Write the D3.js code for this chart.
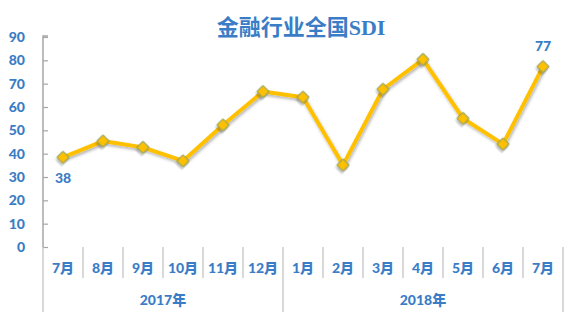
<!DOCTYPE html>
<html><head><meta charset="utf-8">
<script src="https://cdn.jsdelivr.net/npm/d3@7"></script>
<style>body{margin:0;background:#fff}svg{display:block}</style>
</head><body><svg id="c" width="569" height="329"></svg>
<script>
const months = ["7月","8月","9月","10月","11月","12月","1月","2月","3月","4月","5月","6月","7月"];
const years = ["2017年","2018年"];
const yearSpans = [6, 7];
const values = [38.4, 45.4, 42.7, 36.9, 52.3, 66.6, 64.2, 35.1, 67.6, 80.4, 55.1, 44.1, 77.3];
const labelled = [{i:0, text:"38", pos:"below"}, {i:12, text:"77", pos:"above"}];
const yTicks = [0,10,20,30,40,50,60,70,80,90];

const svg = d3.select("#c");
const blue = "#3A7DC6";
const L = 43, R = 563, T = 37, B = 247;
const x = d3.scaleBand().domain(d3.range(months.length)).range([L, R]).paddingInner(0).paddingOuter(0);
const y = d3.scaleLinear().domain([0, 90]).range([B, T]);
const labFont = "Lato, 'Noto Sans CJK SC', sans-serif";

const defs = svg.append("defs");
const f = defs.append("filter").attr("id","sh").attr("x","-20%").attr("y","-20%").attr("width","140%").attr("height","160%");
f.append("feDropShadow").attr("dx",1).attr("dy",2).attr("stdDeviation",1.5).attr("flood-color","#000").attr("flood-opacity",0.3);
const f2 = defs.append("filter").attr("id","sh2").attr("x","-5%").attr("y","-50%").attr("width","110%").attr("height","300%");
f2.append("feDropShadow").attr("dx",0).attr("dy",1.5).attr("stdDeviation",1).attr("flood-color","#000").attr("flood-opacity",0.3);

// title
svg.append("text").attr("x", 301).attr("y", 35).attr("text-anchor","middle")
  .attr("font-family","'Liberation Serif', 'Noto Sans CJK SC', serif").attr("font-weight","bold")
  .attr("font-size", 22).attr("fill", blue).text("金融行业全国SDI");

// y axis
const ya = svg.append("g").attr("transform", `translate(${L},0)`)
  .call(d3.axisRight(y).tickValues(yTicks).tickSize(5).tickFormat(""));
ya.select(".domain").attr("stroke","#a6a6a6").attr("stroke-width",1.5).attr("d", `M5,${T-1}H0V${B}`);
ya.selectAll(".tick line").attr("stroke","#a6a6a6").attr("stroke-width",1.2);
svg.append("g").selectAll("text").data(yTicks).join("text")
  .attr("x", 25).attr("y", d => y(d)).attr("dy","0.36em").attr("text-anchor","end")
  .attr("font-family", labFont).attr("font-weight","900").attr("font-size",14).attr("fill",blue)
  .text(d => d);

// x axis line
svg.append("line").attr("x1",L).attr("x2",R).attr("y1",B).attr("y2",B)
  .attr("stroke","#a6a6a6").attr("stroke-width",2).attr("filter","url(#sh2)");

// month separators
const seps = d3.range(months.length + 1);
let cum = [0]; yearSpans.forEach(s => cum.push(cum[cum.length-1] + s));
svg.append("g").selectAll("line").data(seps).join("line")
  .attr("x1", i => i < months.length ? x(i) : R).attr("x2", i => i < months.length ? x(i) : R)
  .attr("y1", B).attr("y2", i => cum.includes(i) ? 312 : 278)
  .attr("stroke","#bfbfbf").attr("stroke-width",1.2);

// month labels
svg.append("g").selectAll("text").data(months).join("text")
  .attr("x", (d,i) => x(i) + x.bandwidth()/2).attr("y", 268).attr("dy","0.36em")
  .attr("text-anchor","middle").attr("font-family",labFont).attr("font-weight","900")
  .attr("font-size",14).attr("fill",blue).text(d => d);

// year labels
svg.append("g").selectAll("text").data(years).join("text")
  .attr("x", (d,i) => (x(cum[i]) + (cum[i+1] < months.length ? x(cum[i+1]) : R)) / 2)
  .attr("y", 300).attr("dy","0.36em")
  .attr("text-anchor","middle").attr("font-family",labFont).attr("font-weight","900")
  .attr("font-size",14).attr("fill",blue).text(d => d);

// line
const line = d3.line().x((d,i) => x(i) + x.bandwidth()/2).y(d => y(d));
svg.append("path").datum(values).attr("d", line).attr("fill","none")
  .attr("stroke","#FFC000").attr("stroke-width",4).attr("stroke-linejoin","round")
  .attr("filter","url(#sh)");

// markers
svg.append("g").selectAll("path").data(values).join("path")
  .attr("d", d3.symbol(d3.symbolSquare, 72))
  .attr("transform", (d,i) => `translate(${x(i) + x.bandwidth()/2},${y(d)}) rotate(45)`)
  .attr("fill","#FFC000").attr("stroke","#8FA25A").attr("stroke-width",1)
  .attr("filter","url(#sh)");

// data labels
svg.append("g").selectAll("text").data(labelled).join("text")
  .attr("x", d => x(d.i) + x.bandwidth()/2)
  .attr("y", d => d.pos === "below" ? y(values[d.i]) + 21 : y(values[d.i]) - 21)
  .attr("dy","0.36em").attr("text-anchor","middle").attr("font-family",labFont)
  .attr("font-weight","900").attr("font-size",14).attr("fill",blue).text(d => d.text);
</script></body></html>
